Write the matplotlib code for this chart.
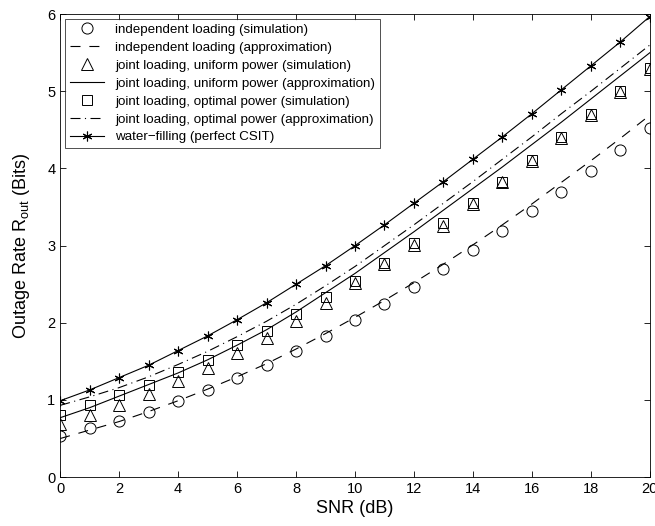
import numpy as np
import matplotlib.pyplot as plt

plt.rcParams['font.family'] = ['Liberation Sans', 'DejaVu Sans']
plt.rcParams['mathtext.fontset'] = 'custom'
plt.rcParams['mathtext.rm'] = 'Liberation Sans'
plt.rcParams['mathtext.it'] = 'Liberation Sans'

snr = np.arange(0, 21)

indep_sim = [0.53, 0.63, 0.73, 0.85, 0.99, 1.13, 1.29, 1.45, 1.64, 1.83, 2.03,
             2.25, 2.47, 2.70, 2.94, 3.19, 3.45, 3.70, 3.97, 4.24, 4.52]
indep_approx = [0.50, 0.61, 0.72, 0.85, 0.99, 1.14, 1.30, 1.47, 1.66, 1.86, 2.07,
                2.29, 2.52, 2.76, 3.01, 3.27, 3.54, 3.82, 4.10, 4.39, 4.69]
unif_sim = [0.69, 0.80, 0.93, 1.08, 1.25, 1.42, 1.61, 1.80, 2.02, 2.26, 2.51,
            2.76, 3.01, 3.26, 3.54, 3.82, 4.10, 4.40, 4.69, 4.99, 5.29]
unif_approx = [0.77, 0.90, 1.05, 1.20, 1.35, 1.52, 1.71, 1.91, 2.14, 2.39, 2.64,
               2.91, 3.18, 3.46, 3.74, 4.02, 4.31, 4.60, 4.90, 5.20, 5.50]
opt_sim = [0.81, 0.93, 1.06, 1.20, 1.36, 1.52, 1.71, 1.90, 2.11, 2.33, 2.54,
           2.78, 3.03, 3.29, 3.55, 3.83, 4.11, 4.41, 4.70, 5.00, 5.30]
opt_approx = [0.93, 1.04, 1.16, 1.30, 1.46, 1.63, 1.82, 2.02, 2.24, 2.48, 2.73,
              3.00, 3.27, 3.55, 3.83, 4.12, 4.41, 4.71, 5.00, 5.30, 5.60]
waterfill = [0.99, 1.13, 1.29, 1.45, 1.64, 1.83, 2.04, 2.26, 2.50, 2.74, 3.00,
             3.27, 3.55, 3.83, 4.12, 4.41, 4.71, 5.02, 5.33, 5.64, 5.97]

fig = plt.figure(figsize=(6.55, 5.26), dpi=100)
ax = fig.add_axes([0.092, 0.093, 0.9, 0.88])

lw = 0.8
ax.plot(snr, indep_sim, 'o', color='k', mfc='none', ms=8, mew=0.7,
        label='independent loading (simulation)')
ax.plot(snr, indep_approx, '--', color='k', lw=lw, dashes=(9, 8),
        label='independent loading (approximation)')
ax.plot(snr, unif_sim, '^', color='k', mfc='none', ms=8, mew=0.7,
        label='joint loading, uniform power (simulation)')
ax.plot(snr, unif_approx, '-', color='k', lw=lw,
        label='joint loading, uniform power (approximation)')
ax.plot(snr, opt_sim, 's', color='k', mfc='none', ms=6.5, mew=0.7,
        label='joint loading, optimal power (simulation)')
ax.plot(snr, opt_approx, '-.', color='k', lw=lw, dashes=(9, 4, 1, 4),
        label='joint loading, optimal power (approximation)')
ax.plot(snr, waterfill, '-', color='k', lw=lw, marker=(6, 2, 0), ms=7, mew=0.8,
        label='water\u2212filling (perfect CSIT)')

ax.set_xlim(0, 20)
ax.set_ylim(0, 6)
ax.set_xticks(np.arange(0, 21, 2))
ax.set_yticks(np.arange(0, 7, 1))
ax.tick_params(direction='in', top=True, right=True, labelsize=10.5, length=4, width=0.6)
for s in ax.spines.values():
    s.set_linewidth(0.6)

ax.set_xlabel('SNR (dB)', fontsize=13, labelpad=3)
ax.set_ylabel('Outage Rate R$_{\\mathrm{out}}$ (Bits)', fontsize=13, labelpad=11)

leg = ax.legend(loc='upper left', fontsize=9.6, frameon=True, fancybox=False,
                edgecolor='k', handlelength=2.6, borderaxespad=0.35,
                labelspacing=0.42, borderpad=0.35, handletextpad=0.8)
leg.get_frame().set_linewidth(0.6)

fig.savefig('out.png', dpi=100)
